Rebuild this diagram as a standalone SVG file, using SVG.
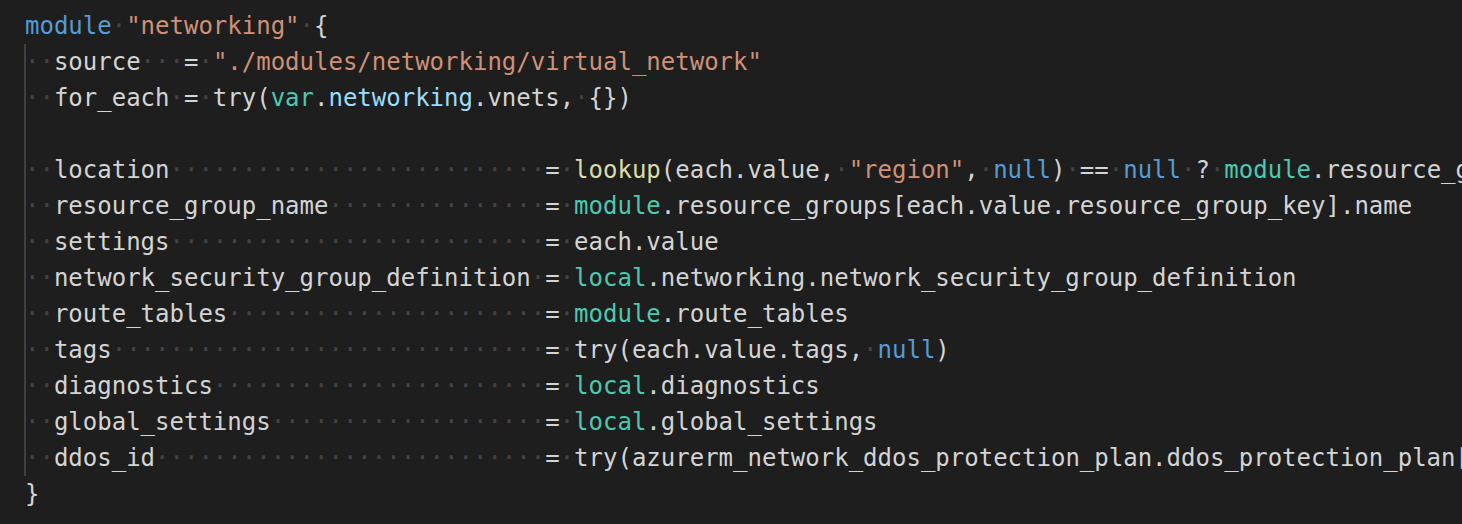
<svg xmlns="http://www.w3.org/2000/svg" width="1462" height="524" viewBox="0 0 1462 524">
<style>
text{font-family:"DejaVu Sans Mono","Liberation Mono",monospace;font-size:24px;fill:#d4d4d4}
.ws{fill:#444444}
.kw{fill:#569cd6}
.str{fill:#ce9178}
.ty{fill:#4ec9b0}
.var{fill:#9cdcfe}
.fn{fill:#dcdcaa}
</style>
<rect x="0" y="0" width="1462" height="524" fill="#1e1e1e"/>
<line x1="25" y1="44" x2="25" y2="476" stroke="#404040" stroke-width="2"/>
<g id="code">
<text x="25" y="34"><tspan class="kw">module</tspan><tspan class="ws">·</tspan><tspan class="str">"networking"</tspan><tspan class="ws">·</tspan>{</text>
<text x="25" y="70"><tspan class="ws">··</tspan>source<tspan class="ws">···</tspan>=<tspan class="ws">·</tspan><tspan class="str">"./modules/networking/virtual_network"</tspan></text>
<text x="25" y="106"><tspan class="ws">··</tspan>for_each<tspan class="ws">·</tspan>=<tspan class="ws">·</tspan>try(<tspan class="ty">var</tspan>.<tspan class="var">networking</tspan>.vnets,<tspan class="ws">·</tspan>{})</text>
<text x="25" y="178"><tspan class="ws">··</tspan>location<tspan class="ws">··························</tspan>=<tspan class="ws">·</tspan><tspan class="fn">lookup</tspan>(each.value,<tspan class="ws">·</tspan><tspan class="str">"region"</tspan>,<tspan class="ws">·</tspan><tspan class="kw">null</tspan>)<tspan class="ws">·</tspan>==<tspan class="ws">·</tspan><tspan class="kw">null</tspan><tspan class="ws">·</tspan>?<tspan class="ws">·</tspan><tspan class="ty">module</tspan>.resource_g</text>
<text x="25" y="214"><tspan class="ws">··</tspan>resource_group_name<tspan class="ws">···············</tspan>=<tspan class="ws">·</tspan><tspan class="ty">module</tspan>.resource_groups[each.value.resource_group_key].name</text>
<text x="25" y="250"><tspan class="ws">··</tspan>settings<tspan class="ws">··························</tspan>=<tspan class="ws">·</tspan>each.value</text>
<text x="25" y="286"><tspan class="ws">··</tspan>network_security_group_definition<tspan class="ws">·</tspan>=<tspan class="ws">·</tspan><tspan class="ty">local</tspan>.networking.network_security_group_definition</text>
<text x="25" y="322"><tspan class="ws">··</tspan>route_tables<tspan class="ws">······················</tspan>=<tspan class="ws">·</tspan><tspan class="ty">module</tspan>.route_tables</text>
<text x="25" y="358"><tspan class="ws">··</tspan>tags<tspan class="ws">······························</tspan>=<tspan class="ws">·</tspan>try(each.value.tags,<tspan class="ws">·</tspan><tspan class="kw">null</tspan>)</text>
<text x="25" y="394"><tspan class="ws">··</tspan>diagnostics<tspan class="ws">·······················</tspan>=<tspan class="ws">·</tspan><tspan class="ty">local</tspan>.diagnostics</text>
<text x="25" y="430"><tspan class="ws">··</tspan>global_settings<tspan class="ws">···················</tspan>=<tspan class="ws">·</tspan><tspan class="ty">local</tspan>.global_settings</text>
<text x="25" y="466"><tspan class="ws">··</tspan>ddos_id<tspan class="ws">···························</tspan>=<tspan class="ws">·</tspan>try(azurerm_network_ddos_protection_plan.ddos_protection_plan[</text>
<text x="25" y="502">}</text>
</g>
</svg>
